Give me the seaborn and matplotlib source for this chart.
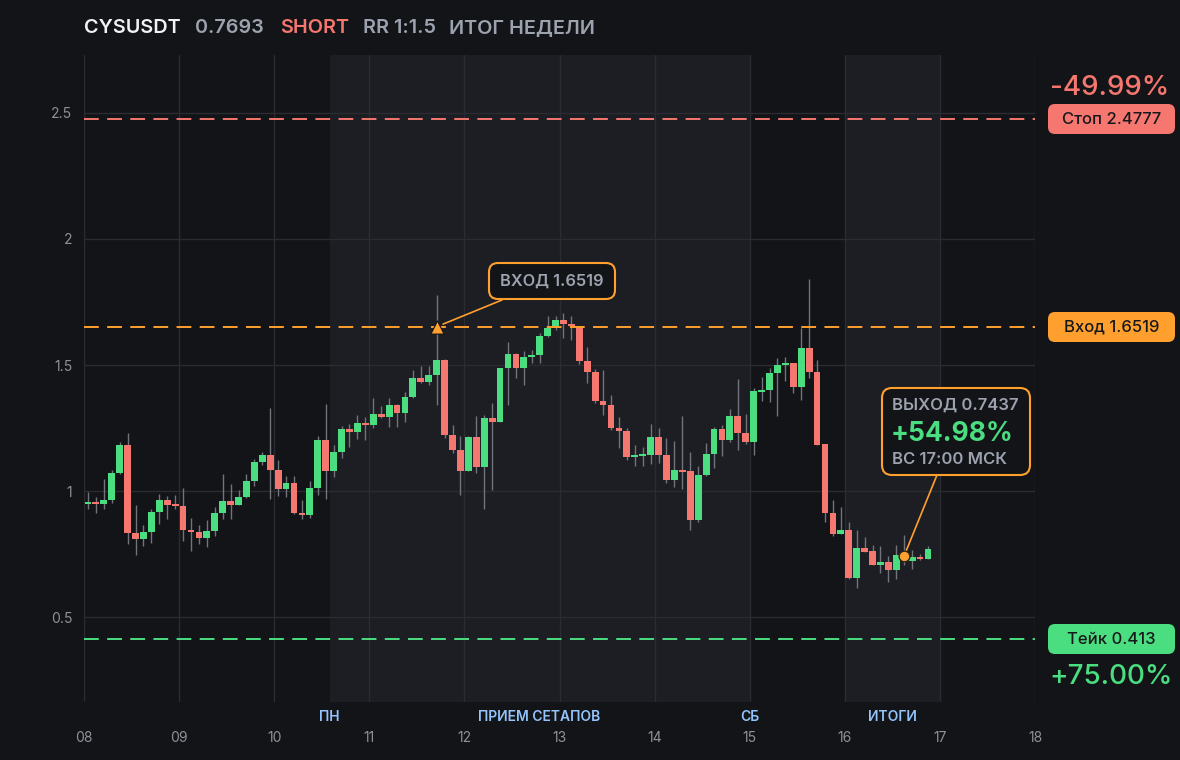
import numpy as np
import pandas as pd
import matplotlib
matplotlib.use("Agg")
import matplotlib.pyplot as plt
import seaborn as sns
from matplotlib.patches import FancyBboxPatch
from matplotlib.transforms import Affine2D

# ---------------- data ----------------
symbol = "CYSUSDT"
last_price = "0.7693"
side = "SHORT"
rr_text = "RR 1:1.5"
title_tail = "ИТОГ НЕДЕЛИ"

day_start = 8.0          # first candle day (x axis in days of month)
candle_hours = 2         # 2h candles

opens = [0.948, 0.956, 0.950, 0.964, 1.071, 1.183, 0.833, 0.810, 0.837, 0.917,
         0.964, 0.946, 0.940, 0.845, 0.837, 0.813, 0.841, 0.913, 0.960, 0.944,
         0.976, 1.040, 1.115, 1.143, 1.083, 1.008, 1.032, 0.913, 0.905, 1.012,
         1.202, 1.079, 1.155, 1.246, 1.234, 1.270, 1.262, 1.306, 1.294, 1.341,
         1.310, 1.373, 1.448, 1.433, 1.460, 1.520, 1.222, 1.163, 1.079, 1.214,
         1.095, 1.290, 1.274, 1.488, 1.544, 1.488, 1.532, 1.540, 1.615, 1.647,
         1.679, 1.663, 1.655, 1.516, 1.472, 1.357, 1.341, 1.250, 1.238, 1.135,
         1.138, 1.143, 1.214, 1.143, 1.044, 1.083, 1.079, 0.885, 1.063, 1.147,
         1.246, 1.202, 1.298, 1.230, 1.194, 1.393, 1.401, 1.468, 1.500, 1.508,
         1.413, 1.567, 1.472, 1.187, 0.913, 0.829, 0.845, 0.655, 0.774, 0.762,
         0.706, 0.718, 0.687, 0.746, 0.722, 0.738, 0.732]
highs = [0.996, 0.976, 1.048, 1.083, 1.194, 1.230, 0.944, 0.865, 0.929, 0.988,
         0.980, 0.984, 1.012, 0.893, 0.865, 0.885, 0.937, 1.067, 1.028, 1.004,
         1.067, 1.127, 1.155, 1.329, 1.123, 1.060, 1.060, 0.964, 1.040, 1.218,
         1.345, 1.183, 1.258, 1.266, 1.302, 1.294, 1.369, 1.337, 1.369, 1.345,
         1.393, 1.480, 1.496, 1.496, 1.778, 1.524, 1.262, 1.218, 1.218, 1.298,
         1.302, 1.349, 1.488, 1.591, 1.548, 1.556, 1.560, 1.627, 1.694, 1.694,
         1.706, 1.694, 1.655, 1.571, 1.484, 1.480, 1.381, 1.294, 1.250, 1.183,
         1.175, 1.266, 1.250, 1.210, 1.198, 1.298, 1.155, 1.099, 1.190, 1.254,
         1.262, 1.325, 1.444, 1.306, 1.409, 1.452, 1.488, 1.528, 1.532, 1.508,
         1.647, 1.841, 1.520, 1.187, 0.964, 0.937, 0.877, 0.845, 0.817, 0.786,
         0.782, 0.742, 0.786, 0.825, 0.766, 0.750, 0.782]
lows = [0.929, 0.913, 0.929, 0.952, 1.067, 0.790, 0.746, 0.782, 0.794, 0.869,
        0.889, 0.929, 0.802, 0.762, 0.790, 0.778, 0.821, 0.889, 0.889, 0.944,
        0.972, 1.020, 1.103, 0.968, 0.980, 0.976, 0.909, 0.889, 0.893, 0.984,
        0.968, 1.056, 1.131, 1.175, 1.206, 1.202, 1.250, 1.290, 1.254, 1.254,
        1.274, 1.369, 1.430, 1.421, 1.341, 1.210, 1.151, 0.984, 1.079, 1.071,
        0.929, 1.004, 1.274, 1.341, 1.448, 1.421, 1.508, 1.508, 1.611, 1.639,
        1.607, 1.599, 1.504, 1.429, 1.349, 1.302, 1.242, 1.171, 1.123, 1.099,
        1.099, 1.107, 1.111, 1.032, 1.016, 1.008, 0.845, 0.877, 1.060, 1.091,
        1.139, 1.194, 1.163, 1.187, 1.143, 1.357, 1.353, 1.298, 1.437, 1.389,
        1.361, 1.448, 1.183, 0.877, 0.821, 0.829, 0.651, 0.615, 0.758, 0.706,
        0.675, 0.639, 0.651, 0.706, 0.690, 0.725, 0.730]
closes = [0.956, 0.950, 0.964, 1.071, 1.183, 0.833, 0.810, 0.837, 0.917, 0.964,
          0.946, 0.940, 0.845, 0.837, 0.813, 0.841, 0.913, 0.960, 0.944, 0.976,
          1.040, 1.115, 1.143, 1.083, 1.008, 1.032, 0.913, 0.905, 1.012, 1.202,
          1.079, 1.155, 1.246, 1.234, 1.270, 1.262, 1.306, 1.294, 1.341, 1.310,
          1.373, 1.448, 1.433, 1.460, 1.520, 1.222, 1.163, 1.079, 1.214, 1.095,
          1.290, 1.274, 1.488, 1.544, 1.488, 1.532, 1.540, 1.615, 1.647, 1.679,
          1.663, 1.655, 1.516, 1.472, 1.357, 1.341, 1.250, 1.238, 1.135, 1.143,
          1.145, 1.214, 1.143, 1.044, 1.083, 1.075, 0.885, 1.063, 1.147, 1.246,
          1.202, 1.298, 1.230, 1.194, 1.397, 1.401, 1.468, 1.500, 1.508, 1.413,
          1.567, 1.472, 1.183, 0.913, 0.829, 0.845, 0.655, 0.774, 0.758, 0.706,
          0.718, 0.687, 0.746, 0.722, 0.738, 0.732, 0.769]

stop_price = 2.4777
entry_price = 1.6519
take_price = 0.413
exit_price = 0.7437
entry_candle = 44
exit_candle = 103
stop_pct = "-49.99%"
take_pct = "+75.00%"
exit_pct = "+54.98%"
exit_time = "ВС 17:00 МСК"

# shaded periods (day units) and their labels
zones = [(10.583, 15.0), (16.0, 17.0)]
zone_labels = [("ПН", 10.583), ("ПРИЕМ СЕТАПОВ", 12.79), ("СБ", 15.0), ("ИТОГИ", 16.5)]

x_ticks = list(range(8, 19))
x_tick_labels = [f"{d:02d}" for d in x_ticks]
y_ticks = [0.5, 1.0, 1.5, 2.0, 2.5]
y_tick_labels = ["0.5", "1", "1.5", "2", "2.5"]

# ---------------- style ----------------
BG = "#131418"
SHADE = "#1d1e23"
GRID = "#2a2c31"
GREEN = "#4ade80"
RED = "#f6776f"
ORANGE = "#ffa02e"
GRAY = "#9ca3af"
TICK = "#8e9198"
BLUE = "#93c5fd"
WICK = "#71747b"
WHITE = "#f1f2f4"

sns.set_theme(style="dark")
plt.rcParams["font.family"] = ["Inter", "DejaVu Sans"]

W, H = 1180, 760
fig = plt.figure(figsize=(W / 100, H / 100), dpi=100, facecolor=BG)
ax = fig.add_axes([84 / W, 1 - 702 / H, (1035 - 84) / W, (702 - 55) / H])
ax.set_facecolor(BG)
px = Affine2D().scale(1 / W, -1 / H).translate(0, 1) + fig.transFigure

df = pd.DataFrame({"open": opens, "high": highs, "low": lows, "close": closes})
step = candle_hours / 24
df["t"] = day_start + (np.arange(len(df)) + 0.5) * step
df["up"] = df["close"] >= df["open"]
body = (df["close"] - df["open"]).abs().clip(lower=0.008)
bottom = df[["open", "close"]].min(axis=1)

for a, b in zones:
    ax.axvspan(a, b, color=SHADE, zorder=0, lw=0)

ax.set_xlim(8, 18)
ax.set_ylim(0.163, 2.730)
ax.set_xticks(x_ticks)
ax.set_xticklabels(x_tick_labels)
ax.set_yticks(y_ticks)
ax.set_yticklabels(y_tick_labels)
ax.grid(True, color=GRID, lw=1, zorder=1)
for s in ax.spines.values():
    s.set_visible(False)
ax.tick_params(axis="x", length=0, pad=21, colors=TICK, labelsize=10)
ax.tick_params(axis="y", length=0, pad=8.5, colors=TICK, labelsize=10)

ax.vlines(df["t"], df["low"], df["high"], color=WICK, lw=1, zorder=2)
ax.bar(df["t"], body, bottom=bottom, width=step * 0.86,
       color=np.where(df["up"], GREEN, RED), lw=0, zorder=3)

for price, col in [(stop_price, RED), (entry_price, ORANGE), (take_price, GREEN)]:
    ax.axhline(price, color=col, lw=1.4, dashes=(7.6, 4.3), zorder=4)

ent_t = df["t"].iloc[entry_candle]
ext_t = df["t"].iloc[exit_candle]
sns.scatterplot(x=[ent_t], y=[entry_price], marker="^", s=90, color=ORANGE,
                edgecolor=BG, linewidth=0.8, ax=ax, zorder=6, legend=False)
sns.scatterplot(x=[ext_t], y=[exit_price], marker="o", s=60, color=ORANGE,
                edgecolor="#2a2418", linewidth=1, ax=ax, zorder=6, legend=False)

# zone labels
xt = ax.get_xaxis_transform()
for txt, xv in zone_labels:
    ax.text(xv, -0.0235, txt, transform=xt, ha="center", va="center",
            color=BLUE, fontsize=10, fontweight="semibold", clip_on=False)

# title
for x0, txt, col in [(84, symbol, WHITE), (195, last_price, GRAY), (280, side, RED),
                     (363, rr_text, GRAY), (449, title_tail, GRAY)]:
    fig.text(x0, 28, txt, transform=px, ha="left", va="center", color=col,
             fontsize=14.3, fontweight="semibold")

# right side price tags
def tag(yc, text, fc):
    fig.add_artist(FancyBboxPatch((1048, yc - 15), 127, 30, transform=px,
                                  boxstyle="round,pad=0,rounding_size=7",
                                  fc=fc, ec="none"))
    fig.text(1111.5, yc, text, transform=px, ha="center", va="center",
             color="#17181c", fontsize=12, fontweight="medium")

tag(119, f"Стоп {stop_price}", RED)
tag(327, f"Вход {entry_price}", ORANGE)
tag(639, f"Тейк {take_price}", GREEN)
fig.text(1110, 88, stop_pct, transform=px, ha="center", va="center",
         color=RED, fontsize=20, fontweight="medium")
fig.text(1111, 677, take_pct, transform=px, ha="center", va="center",
         color=GREEN, fontsize=20, fontweight="medium")

# entry callout
fig.add_artist(FancyBboxPatch((489, 263), 126, 36, transform=px,
                              boxstyle="round,pad=0,rounding_size=9",
                              fc=BG, ec=ORANGE, lw=1.5, zorder=7))
fig.text(552, 281, f"ВХОД {entry_price}", transform=px, ha="center", va="center",
         color=GRAY, fontsize=11.8, fontweight="semibold", zorder=8)
ax.annotate("", xy=(ent_t, entry_price), xycoords="data", xytext=(502, 300),
            textcoords=px, arrowprops=dict(arrowstyle="-", color=ORANGE, lw=1.2,
                                           shrinkA=0, shrinkB=5), zorder=5)

# exit callout
fig.add_artist(FancyBboxPatch((882, 388), 148, 87, transform=px,
                              boxstyle="round,pad=0,rounding_size=10",
                              fc=BG, ec=ORANGE, lw=1.5, zorder=7))
fig.text(892, 405, f"ВЫХОД {exit_price}", transform=px, ha="left", va="center",
         color=GRAY, fontsize=12, fontweight="semibold", zorder=8)
fig.text(891, 434, exit_pct, transform=px, ha="left", va="center",
         color=GREEN, fontsize=19, fontweight="bold", zorder=8)
fig.text(892, 459, exit_time, transform=px, ha="left", va="center",
         color=GRAY, fontsize=12, fontweight="semibold", zorder=8)
ax.annotate("", xy=(ext_t, exit_price), xycoords="data", xytext=(937, 475),
            textcoords=px, arrowprops=dict(arrowstyle="-", color=ORANGE, lw=1.2,
                                           shrinkA=0, shrinkB=4), zorder=5)

fig.savefig("out.png", dpi=100, facecolor=BG)
